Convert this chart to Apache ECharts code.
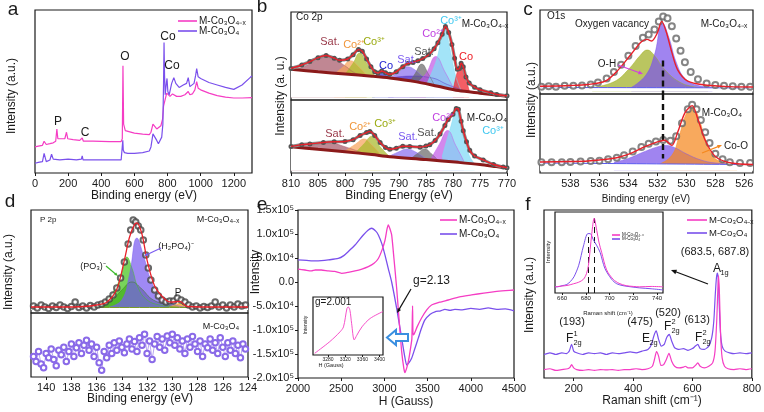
<!DOCTYPE html>
<html>
<head>
<meta charset="utf-8">
<script src="https://cdn.jsdelivr.net/npm/echarts@6/dist/echarts.min.js"></script>
<style>
  html, body { margin: 0; padding: 0; background: #fff; }
  #chart { width: 764px; height: 412px; }
</style>
</head>
<body>
<div id="chart"></div>
<script>
// ---------- data ----------
// a: XPS survey, [binding energy, intensity a.u.]
const aPink = [[0,16],[20,16.5],[45,17],[55,19.5],[60,20.6],[68,17.5],[90,18],[100,19],[110,18.5],[125,19.5],[132,27],[138,21],[150,20.5],[180,21],[190,25],[198,21],[230,20.5],[270,20],[285,21.5],[292,19.5],[350,19.5],[450,19.2],[520,19.3],[527,21],[531,65.8],[535,30],[545,26],[555,25.5],[600,24.5],[650,23.8],[690,23.5],[700,25],[712,30],[722,29],[735,27],[745,27.8],[760,29],[770,33],[776,41],[782,42],[788,40],[795,49],[802,48],[815,47],[830,48.5],[840,49.5],[855,47],[880,47],[905,48],[925,50],[935,48],[950,48.5],[965,51],[976,56],[985,52],[1000,51],[1050,49],[1100,47.5],[1150,46.5],[1200,46],[1250,46],[1310,46.2]];
const aPurple = [[0,6],[20,6.5],[45,7],[55,12],[60,13],[68,7],[90,8],[100,11.5],[110,8.5],[150,8],[200,8.5],[250,8],[280,8.5],[285,10.5],[290,8],[350,8],[450,8],[520,8],[527,9],[530,20],[533,14],[540,12.5],[560,12],[600,12],[650,12.5],[690,13.5],[700,16],[712,24],[722,25],[735,20],[745,18],[755,19],[765,22],[772,30],[776,55],[779,80],[782,60],[786,48],[790,47],[794,56],[797,58],[802,50],[810,48],[825,55],[838,58.5],[850,55],[870,52.5],[895,54],[915,55],[925,58.5],[935,53],[945,52],[960,55],[970,60],[976,64],[985,59],[1000,58],[1050,55.5],[1100,54],[1150,52.5],[1200,51.3],[1250,54],[1300,58.7],[1310,59.5]];
const aTicks = [0, 200, 400, 600, 800, 1000, 1200];

// b: Co 2p
const bTopFit = [[810,34],[808,38],[806.5,42],[805,46.5],[803.5,49],[802,46],[801,43.5],[799.5,45],[798.5,50],[797.5,56],[796.8,54],[796,45],[795.2,36],[794.5,30],[793.9,28.5],[793.2,31],[792.5,29],[791.7,27],[790.5,30],[789.3,36],[788.3,40],[787.4,41],[786.5,43],[785.6,45.5],[784.5,50],[783.5,57],[782.8,64],[782,74],[781.4,83],[780.8,76],[780.2,62],[779.7,46],[779.2,33],[778.8,34],[778.5,40],[778.1,36],[777.6,24],[777,17],[776,12],[775,9],[773,5.5],[771.9,3.5],[770,2]];
const bTopBg = [[810,33],[805,30],[800,27.5],[795,24.8],[791.7,22.7],[787,18.5],[782.8,13],[779,8],[775,5],[770,1.5]];
const bTopSat1 = [[810,30],[807,38],[805,44.5],[803.5,47],[802,45],[800,37],[798,28],[796,24]];
const bTopCo2a = [[802,27],[800.5,35],[799,43],[797.5,36],[796,26]];
const bTopCo3a = [[800,27],[798.5,40],[797.3,52],[796,40],[794.5,25]];
const bTopCo0a = [[795,23],[794,27],[793,30],[792,26],[791,22]];
const bTopSat2 = [[792,21],[790,30],[788.5,36],[787,32],[785,20]];
const bTopSat3 = [[788,18],[787,28],[785.8,39],[784.6,28],[783.5,15]];
const bTopSat4 = [[792,22],[788,25],[784,23],[781,15],[778,8]];
const bTopCo2b = [[787,15],[785,28],[783.2,48],[781.5,30],[780,12]];
const bTopCo3b = [[785,14],[783,45],[781.6,82],[780.5,55],[779.5,25],[778.5,8]];
const bTopCo0b = [[780,8],[779.2,30],[778.6,40],[778,30],[777,8]];
const bBotFit = [[810,34.5],[808,37],[806.5,38],[804,40],[802,41],[800,41.5],[798.5,44],[797.2,50],[796,54],[795.4,55.7],[794.5,50],[793.5,40],[792.5,33],[791.7,30.5],[790.5,32],[789.3,34.7],[788,34.5],[786.1,33.5],[785,35],[784.3,37],[783.3,43],[782.4,52],[781.5,64],[780.9,72.6],[780,80],[779.4,88],[779,87],[778.5,70],[778.1,56.6],[777.5,41],[776.9,29],[776,21],[774.4,15.5],[772.5,9],[770.7,5.5],[770,4.5]];
const bBotBg = [[810,34],[805,30.5],[800,27],[795,23],[791.7,20],[785,16],[779,12],[775,9],[772,6],[770,4]];
const bBotSat1 = [[810,32],[807,35],[803,40],[800,34],[797,26]];
const bBotCo2a = [[800,28],[798,38],[796.5,45],[795,36],[793.5,24]];
const bBotCo3a = [[798,26],[796.5,38],[795,49],[793.5,34],[792,22]];
const bBotSat2 = [[792,20],[790,27],[788.5,31],[787,27],[785,17]];
const bBotSat3 = [[788,16],[786.5,25],[785.2,31],[784,24],[782.5,13]];
const bBotCo2b = [[784,18],[782.5,38],[781,57],[779.5,36],[778,14]];
const bBotCo3b = [[782,20],[780.5,60],[779.3,87],[778.3,55],[777,22],[776,10]];
const bTicks = [810, 805, 800, 795, 790, 785, 780, 775, 770];

// c: O 1s
const cTopFit = [[540.1,6.5],[538,7.5],[536.8,8.7],[535.6,12.7],[534.7,26.6],[533.8,46],[533.1,61],[532.7,64],[532.4,62],[532,72],[531.7,86],[531.4,74],[531,48],[530.6,26.6],[529.9,12.7],[528.7,8],[527,6],[525.4,5.5]];
const cTopPts = [[540,6],[539.5,6.5],[539,6],[538.4,7],[537.8,7],[537.2,7.5],[536.6,8.5],[536.1,11],[535.5,16],[535,24],[534.5,33],[534,44],[533.5,56],[533,66],[532.6,70],[532.2,76],[531.9,86],[531.6,92],[531.3,90],[531,80],[530.7,65],[530.4,50],[530.1,36],[529.7,24],[529.2,15],[528.6,10],[528,8],[527.4,7],[526.8,6.5],[526.2,6],[525.6,6]];
const cTopOH = [[536.5,5],[535,12],[534,27],[533.2,44],[532.7,51],[532.2,44],[531.5,27],[530.5,12],[529.5,6],[528.5,4]];
const cTopVac = [[533.8,5],[532.8,20],[532.2,45],[531.65,84],[531.2,66],[530.7,36],[530.1,16],[529.3,8],[528.2,5]];
const cTopBg = [[540.1,5],[525.4,4.5]];
const cBotFit = [[540.1,11.4],[538,12],[536.8,12.6],[534.9,16.5],[533.8,22.8],[532.9,31],[532,37.6],[531.5,39.7],[531,33],[530.6,50],[530.1,75.5],[529.6,84.8],[529.2,67],[528.7,39.7],[528,18.6],[526.9,10],[525.4,8]];
const cBotPts = [[540,11],[539.3,11],[538.6,11],[538,11.5],[537.3,12],[536.6,12.5],[536,13],[535.4,15],[534.8,17],[534.3,20],[533.7,25],[533.1,31],[532.6,35],[532.1,38],[531.6,40],[531.1,39],[530.7,45],[530.3,62],[529.9,80],[529.6,86],[529.3,80],[529,66],[528.7,50],[528.4,36],[528,22],[527.5,15],[527,11],[526.3,10],[525.6,10]];
const cBotVac = [[535,11],[534,16],[533,24],[532,31],[531.4,33],[530.8,30],[530,22],[529,14],[528,10],[527,9]];
const cBotCoO = [[531.8,9],[531,20],[530.5,45],[530,75],[529.6,85],[529.2,72],[528.7,42],[528.2,20],[527.5,11],[526.5,8.5]];
const cBotBg = [[540.1,10],[525.4,8]];
const cTicks = [538, 536, 534, 532, 530, 528, 526];

// d: P 2p
const dTopFit = [[141.2,3],[139,3],[137,3.5],[136,5],[135.2,7.8],[134.4,20.7],[133.8,49.8],[133.4,72.5],[133,85.4],[132.8,87],[132.4,75.7],[132,49.8],[131.4,24],[130.6,11],[130.1,7.8],[129.4,8.7],[128.8,3.5],[126,3],[124,3]];
const dTopPts = [[141,4],[140.7,2],[140.4,5],[140.1,3],[139.8,1.5],[139.5,4],[139.2,2.5],[138.9,5],[138.6,3],[138.3,1.5],[138,3.5],[137.7,8],[137.4,2.5],[137.1,4],[136.8,2],[136.5,4.5],[136.2,3],[135.9,5],[135.6,6],[135.3,8],[135,11],[134.7,15],[134.4,22],[134.1,32],[133.8,48],[133.5,66],[133.3,80],[133.1,90],[132.9,88],[132.7,84],[132.5,80],[132.3,70],[132.1,55],[131.9,42],[131.7,30],[131.4,20],[131.1,14],[130.8,10],[130.5,8],[130.2,9],[129.9,9],[129.6,12],[129.3,10],[129,8],[128.7,5],[128.4,3],[128.1,4],[127.8,2],[127.5,3.5],[127.2,2.5],[126.9,4],[126.6,8],[126.3,3],[126,5],[125.7,2],[125.4,5],[125.1,3],[124.8,6],[124.5,4],[124.2,5]];
const dTopBase = [[137,3],[135,8],[134,20],[133.2,28],[132.5,22],[131.5,10],[130,4]];
const dTopPO3 = [[136.5,3],[135.5,8],[134.5,22],[134,38],[133.6,53],[133.2,42],[132.7,22],[132,10],[131,5],[129.5,3]];
const dTopH2PO4 = [[135,3],[134,10],[133.4,35],[132.8,72],[132.3,55],[131.7,30],[131,14],[130,6],[129,3]];
const dTopP = [[130.3,2.5],[129.8,5],[129.4,6.5],[129,5],[128.5,2.5]];
const dTopBg = [[141.2,2.5],[124,2.5]];
const dBotPts = [[141,30],[140.8,22],[140.6,38],[140.4,18],[140.2,12],[140,35],[139.8,28],[139.6,42],[139.4,25],[139.2,15],[139,40],[138.8,33],[138.6,45],[138.4,22],[138.2,38],[138,50],[137.8,30],[137.6,44],[137.4,52],[137.2,35],[137,48],[136.8,56],[136.6,40],[136.4,50],[136.2,30],[136,45],[135.8,20],[135.6,8],[135.4,38],[135.2,28],[135,48],[134.8,35],[134.6,52],[134.4,40],[134.2,55],[134,45],[133.8,36],[133.6,50],[133.4,58],[133.2,42],[133,54],[132.8,38],[132.6,60],[132.4,48],[132.2,66],[132,35],[131.8,55],[131.6,25],[131.4,50],[131.2,62],[131,45],[130.8,58],[130.6,40],[130.4,63],[130.2,52],[130,66],[129.8,48],[129.6,60],[129.4,42],[129.2,55],[129,35],[128.8,58],[128.6,45],[128.4,62],[128.2,50],[128,38],[127.8,55],[127.6,30],[127.4,50],[127.2,44],[127,58],[126.8,40],[126.6,52],[126.4,35],[126.2,60],[126,45],[125.8,30],[125.6,52],[125.4,40],[125.2,55],[125,35],[124.8,48],[124.6,28],[124.4,50],[124.2,42]];
const dTicks = [140, 138, 136, 134, 132, 130, 128, 126, 124];

// e: EPR, [H (Gauss), intensity]
const ePink = [[2000,27000],[2080,25000],[2155,23000],[2200,25000],[2270,25000],[2350,23000],[2425,22000],[2505,18000],[2580,20000],[2660,23000],[2740,27000],[2814,32000],[2880,39000],[2930,49000],[2975,68000],[3007,87000],[3030,110000],[3045,119000],[3062,112000],[3084,98000],[3110,50000],[3142,-13000],[3175,-90000],[3200,-145000],[3225,-180000],[3238,-189000],[3260,-178000],[3283,-160000],[3305,-135000],[3318,-118000],[3326,-50000],[3332,-110000],[3345,-108000],[3380,-93000],[3430,-75000],[3490,-58000],[3546,-48000],[3640,-42000],[3739,-37500],[3870,-31000],[4009,-27000],[4150,-23000],[4279,-20000],[4400,-18000],[4500,-16700]];
const ePurple = [[2000,46000],[2100,45000],[2200,44000],[2270,44500],[2350,46000],[2466,49000],[2530,55000],[2580,63000],[2660,77000],[2756,98000],[2810,108000],[2853,112000],[2900,106000],[2930,98000],[2970,80000],[3007,56000],[3045,28000],[3084,0],[3142,-55000],[3200,-117000],[3235,-155000],[3258,-173000],[3285,-168000],[3315,-159000],[3350,-140000],[3392,-117000],[3430,-96000],[3469,-79000],[3530,-67000],[3585,-62000],[3650,-60000],[3700,-57000],[3760,-59000],[3816,-57000],[3900,-58000],[4000,-55000],[4100,-57000],[4202,-54000],[4300,-57000],[4400,-56000],[4500,-60000]];
const eInset = [[3249,3],[3284,23],[3308,40],[3316,48.5],[3324,80],[3327,83],[3331,77],[3335,54],[3341,26],[3347,34],[3359,48.5],[3378,63],[3408,75]];
const eInsetTicks = [3280, 3320, 3360, 3400];

// f: Raman, [shift cm-1, intensity a.u.]
const fPurple = [[100,14],[120,15],[140,14],[160,15],[175,14.5],[185,16],[193,20],[200,16],[210,15],[230,14],[250,15],[270,14.5],[290,15],[310,14],[330,15],[350,14.5],[370,15],[390,15.5],[410,15],[430,16],[450,17],[462,20],[470,25],[478,28],[486,23],[495,19],[505,20],[513,24],[522,26],[530,22],[540,18],[555,17],[570,17.5],[585,16.5],[600,17.5],[610,19],[618,20],[626,17.5],[640,17],[655,19],[665,24],[672,34],[677,50],[681,60],[684,62.5],[687,59],[690,45],[694,28],[700,19],[710,16],[725,15],[740,14.5],[760,15],[780,14.5],[800,15]];
const fPink = [[100,5],[120,5.5],[140,4.5],[160,5],[180,5.5],[188,6.5],[193,8],[200,6],[210,5],[230,4.5],[250,5],[270,4.5],[290,5],[310,4.8],[330,5],[350,4.5],[370,5],[390,5],[410,5.5],[430,5],[450,5.5],[465,7],[472,11],[479,15.7],[486,13],[494,7.5],[503,8],[512,11],[521,14.7],[530,10],[540,7],[555,6],[570,6.5],[576,7],[585,6],[600,6],[610,7.5],[618,9],[626,7],[640,6],[655,7],[668,9],[676,16],[682,35],[686,55],[688,61],[691,50],[695,25],[700,12],[708,7],[720,5.5],[740,5],[760,5.5],[780,5],[800,5.5]];
const fInPurple = [[654,8],[656,8],[660,9.5],[664,11],[667,15],[670,21],[674,36],[678,61],[681.7,77],[683.6,77],[686.3,69],[689,62],[692,52.7],[696,32],[701.7,17.8],[706,12],[711.3,9.5],[718,8],[725,6.7],[735,5.5],[745,4]];
const fInPink = [[654,8],[660,9],[665,10],[669.7,12],[674,14],[678,17.8],[680.5,25],[682.2,36],[685,77],[687,97],[689.2,81],[691,66],[693.3,52.7],[697.5,30],[703,17.8],[708,12.5],[714,9.5],[720,8.5],[725,8],[735,8.5],[745,8]];
const fTicks = [200, 400, 600, 800];
const fInsetTicks = [660, 680, 700, 720, 740];

// ---------- styling ----------
const FONT = 'Liberation Sans, Arial, sans-serif';
const PINK = '#f53dc4';
const PURPLE = '#7a50ec';
const RED = '#e8202a';
const INK = '#1a1a1a';

// grids: a, bTop, bBot, cTop, cBot, dTop, dBot, e, eInset, f, fInset
const boxes = [
    [35, 10, 217, 163],
    [291, 12, 216, 88],
    [291, 100, 216, 73],
    [540, 10, 213, 84],
    [540, 94, 213, 79],
    [31, 210, 217, 103],
    [31, 313, 217, 64],
    [298, 210, 216, 168],
    [313, 297, 70, 58],
    [544, 210, 210, 168],
    [555, 212, 108, 81]
];

const grids = boxes.map(b => ({
    left: b[0], top: b[1], width: b[2], height: b[3],
    show: true, borderColor: INK, borderWidth: 1.2, backgroundColor: 'transparent'
}));

function xAx(gi, min, max, ticks, opt) {
    opt = opt || {};
    const show = !!ticks;
    return {
        type: 'value', gridIndex: gi, min: min, max: max, inverse: !!opt.inverse,
        interval: opt.interval,
        axisLine: { show: false, onZero: false },
        axisTick: { show: show, customValues: opt.interval ? undefined : ticks, length: opt.tickLen || 3, lineStyle: { color: INK, width: 1 } },
        axisLabel: {
            show: show, customValues: opt.interval ? undefined : ticks, fontSize: opt.fontSize || 11,
            color: INK, fontFamily: FONT, margin: opt.margin || 5, formatter: v => String(v)
        },
        splitLine: { show: false }
    };
}
function yHidden(gi, min, max) {
    return { type: 'value', gridIndex: gi, min: min, max: max, show: false, splitLine: { show: false } };
}

const xAxes = [
    xAx(0, 0, 1310, aTicks),
    xAx(1, 770, 810, null, { inverse: true }),
    xAx(2, 770, 810, bTicks, { inverse: true }),
    xAx(3, 525.4, 540.1, null, { inverse: true }),
    xAx(4, 525.4, 540.1, cTicks, { inverse: true }),
    xAx(5, 124, 141.2, null, { inverse: true }),
    xAx(6, 124, 141.2, dTicks, { inverse: true }),
    xAx(7, 2000, 4500, [2000], { interval: 500 }),
    xAx(8, 3245, 3408, eInsetTicks, { fontSize: 5, tickLen: 2, margin: 2 }),
    xAx(9, 100, 800, fTicks),
    xAx(10, 654, 745, fInsetTicks, { fontSize: 6, tickLen: 2, margin: 2 })
];

function supExp(v) {
    if (v === 0) return '0.0';
    const s = v < 0 ? '-' : '';
    const a = Math.abs(v);
    const e = Math.floor(Math.log10(a) + 1e-9);
    return s + (a / Math.pow(10, e)).toFixed(1) + 'x10' + (e === 5 ? '⁵' : '⁴');
}

const yAxes = [
    yHidden(0, 0, 100),
    yHidden(1, -3, 100),
    yHidden(2, -3, 100),
    yHidden(3, -3, 100),
    yHidden(4, -3, 100),
    yHidden(5, -3, 100),
    yHidden(6, -3, 100),
    {
        type: 'value', gridIndex: 7, min: -200000, max: 150000, interval: 50000,
        axisLine: { show: false, onZero: false },
        axisTick: { show: true, length: 3, lineStyle: { color: INK } },
        axisLabel: { fontSize: 11, color: INK, fontFamily: FONT, margin: 4, formatter: supExp },
        splitLine: { show: false }
    },
    yHidden(8, 0, 100),
    yHidden(9, 0, 100),
    yHidden(10, 0, 105)
];

// ---------- series ----------
function ln(gi, data, color, width, extra) {
    return Object.assign({
        type: 'line', xAxisIndex: gi, yAxisIndex: gi, data: data,
        symbol: 'none', smooth: false, silent: true, animation: false,
        lineStyle: { color: color, width: width }, itemStyle: { color: color }, z: 5
    }, extra || {});
}
function peak(gi, data, color) {
    return ln(gi, data, color, 0.5, { smooth: 0.45, areaStyle: { color: color, opacity: 0.72 }, z: 2 });
}
function cover(gi, data, color, width) {
    return ln(gi, data, color, width, { smooth: 0.3, areaStyle: { color: '#fff', opacity: 1 }, z: 3 });
}
function dots(gi, data, color, size, extra) {
    return Object.assign({
        type: 'scatter', xAxisIndex: gi, yAxisIndex: gi, data: data, silent: true, animation: false,
        symbol: 'emptyCircle', symbolSize: size, itemStyle: { color: color, borderColor: color, borderWidth: 0.8 }, z: 4
    }, extra || {});
}
function band(gi, data) {
    return ln(gi, data, '#8a8a8a', 3.2, { smooth: 0.3, symbol: 'emptyCircle', symbolSize: 3, showAllSymbol: true, itemStyle: { color: '#555' }, z: 4 });
}
const dashMark = (pairs, w) => ({
    silent: true, symbol: 'none', label: { show: false },
    lineStyle: { type: [6, 4], color: '#111', width: w },
    data: pairs.map(p => [{ coord: p[0] }, { coord: p[1] }])
});

const series = [
    // a
    ln(0, aPink, PINK, 1.2),
    ln(0, aPurple, PURPLE, 1.2),
    // b top
    peak(1, bTopSat1, '#a8596a'),
    peak(1, bTopCo2a, '#f7a35c'),
    peak(1, bTopCo3a, '#a8b82a'),
    peak(1, bTopCo0a, '#2a35d8'),
    peak(1, bTopSat2, '#8a6ff0'),
    peak(1, bTopSat4, '#5a3cc8'),
    peak(1, bTopSat3, '#6b6b6b'),
    peak(1, bTopCo2b, '#c25ae6'),
    peak(1, bTopCo3b, '#7fdaf5'),
    peak(1, bTopCo0b, '#f0202a'),
    cover(1, bTopBg, '#8b1a1a', 3),
    band(1, bTopFit),
    ln(1, bTopFit, RED, 1.4, { smooth: 0.3, z: 6 }),
    // b bottom
    peak(2, bBotSat1, '#a8596a'),
    peak(2, bBotCo2a, '#f7a35c'),
    peak(2, bBotCo3a, '#a8b82a'),
    peak(2, bBotSat2, '#8a6ff0'),
    peak(2, bBotSat3, '#6b6b6b'),
    peak(2, bBotCo2b, '#c25ae6'),
    peak(2, bBotCo3b, '#7fdaf5'),
    cover(2, bBotBg, '#8b1a1a', 3),
    band(2, bBotFit),
    ln(2, bBotFit, RED, 1.4, { smooth: 0.3, z: 6 }),
    // c top
    peak(3, cTopOH, '#9fae22'),
    peak(3, cTopVac, '#7c55ea'),
    cover(3, cTopBg, '#5a5af0', 1),
    dots(3, cTopPts, '#666', 6),
    ln(3, cTopFit, RED, 1.4, { smooth: 0.3, z: 6, markLine: dashMark([[[531.6, 38], [531.6, -3]]], 2.4) }),
    // c bottom
    peak(4, cBotVac, '#7c55ea'),
    peak(4, cBotCoO, '#f5881f'),
    cover(4, cBotBg, '#5a5af0', 1),
    dots(4, cBotPts, '#666', 6),
    ln(4, cBotFit, RED, 1.4, { smooth: 0.3, z: 6, markLine: dashMark([[[531.6, 100], [531.6, 16]]], 2.4) }),
    // d top
    peak(5, dTopBase, '#3d7a1a'),
    peak(5, dTopPO3, '#44c41c'),
    peak(5, dTopH2PO4, '#7a5cf0'),
    peak(5, dTopP, '#f29a1a'),
    cover(5, dTopBg, '#7a9a2a', 1),
    dots(5, dTopPts, '#444', 5.5),
    ln(5, dTopFit, RED, 1.3, { smooth: 0.3, z: 6 }),
    // d bottom
    ln(6, dBotPts, '#8a6ae8', 0.6, { symbol: 'emptyCircle', symbolSize: 5.5, showAllSymbol: true, itemStyle: { color: '#8a6ae8', borderWidth: 0.8 } }),
    // e
    ln(7, ePurple, PURPLE, 1.3, { smooth: 0.2 }),
    ln(7, ePink, PINK, 1.3, { smooth: 0.2 }),
    ln(8, eInset, PINK, 0.9, { smooth: 0.3 }),
    // f
    ln(9, fPurple, PURPLE, 1.2, { smooth: 0.2 }),
    ln(9, fPink, PINK, 1.2, { smooth: 0.2 }),
    ln(10, fInPurple, PURPLE, 1, { smooth: 0.3 }),
    ln(10, fInPink, PINK, 1, { smooth: 0.3, markLine: dashMark([[[682, 0], [682, 77]], [[687, 0], [687, 97]]], 1) })
];

// ---------- annotations ----------
function T(x, y, text, o) {
    o = o || {};
    return {
        type: 'text', x: x, y: y, z: 100, rotation: o.rot || 0, silent: true,
        style: {
            text: text, fill: o.color || INK, fontSize: o.size || 11, fontFamily: FONT,
            fontWeight: o.weight || 'normal',
            align: o.align || 'center', verticalAlign: o.va || 'middle'
        }
    };
}
function L(x1, y1, x2, y2, color, w) {
    return { type: 'line', z: 100, silent: true, shape: { x1: x1, y1: y1, x2: x2, y2: y2 }, style: { stroke: color, lineWidth: w || 1 } };
}
function arrow(x1, y1, x2, y2, color, w, hs) {
    hs = hs || 5;
    const a = Math.atan2(y2 - y1, x2 - x1);
    const p1 = [x2 - hs * Math.cos(a - 0.4), y2 - hs * Math.sin(a - 0.4)];
    const p2 = [x2 - hs * Math.cos(a + 0.4), y2 - hs * Math.sin(a + 0.4)];
    return [
        L(x1, y1, x2 - hs * 0.6 * Math.cos(a), y2 - hs * 0.6 * Math.sin(a), color, w),
        { type: 'polygon', z: 100, silent: true, shape: { points: [[x2, y2], p1, p2] }, style: { fill: color } }
    ];
}
function legendItem(x, y, color, label, len, size) {
    return [L(x, y, x + len, y, color, 1.6), T(x + len + 2, y, label, { align: 'left', size: size })];
}
// subscript/superscript label like F^1_2g
function symLabel(x, y, main, sub, sup, color, size) {
    size = size || 11;
    const out = [T(x, y, main, { align: 'left', size: size, color: color })];
    const w = main.length * size * 0.62;
    if (sub) out.push(T(x + w, y + size * 0.35, sub, { align: 'left', size: size * 0.62, color: color }));
    if (sup) out.push(T(x + w, y - size * 0.4, sup, { align: 'left', size: size * 0.62, color: color }));
    return out;
}

const SUBX = 'M-Co₃O₄₋ₓ';
const SUB = 'M-Co₃O₄';

let graphics = [
    // panel letters
    T(13, 10, 'a', { size: 19 }), T(262, 7, 'b', { size: 19 }), T(528, 10, 'c', { size: 19 }),
    T(10, 202, 'd', { size: 19 }), T(262, 205, 'e', { size: 19 }), T(528, 205, 'f', { size: 19 }),
    // axis titles
    T(144, 196, 'Binding energy (eV)', { size: 12 }),
    T(399, 196, 'Binding Energy (eV)', { size: 12 }),
    T(646, 199, 'Binding energy (eV)', { size: 10 }),
    T(140, 399, 'Binding energy (eV)', { size: 12 }),
    T(406, 402, 'H (Gauss)', { size: 12 }),
    T(652, 401, 'Raman shift (cm⁻¹)', { size: 12 }),
    T(12, 96, 'Intensity (a.u.)', { size: 12, rot: Math.PI / 2 }),
    T(281, 96, 'Intensity (a. u.)', { size: 12, rot: Math.PI / 2 }),
    T(532, 100, 'Intensity (a.u.)', { size: 12, rot: Math.PI / 2 }),
    T(9, 272, 'Intensity (a.u.)', { size: 12, rot: Math.PI / 2 }),
    T(256, 272, 'Intensity', { size: 12, rot: Math.PI / 2 }),
    T(530, 295, 'Intensity (a.u.)', { size: 12, rot: Math.PI / 2 }),
    // a
    T(58, 122, 'P', { size: 12 }), T(85, 133, 'C', { size: 12 }), T(125, 57, 'O', { size: 12 }),
    T(168, 37, 'Co', { size: 12 }), T(172, 66, 'Co', { size: 12 }),
    // b top
    T(296, 17, 'Co 2p', { size: 10, align: 'left' }), T(485, 24, SUBX, { size: 10 }),
    T(330, 42, 'Sat.', { size: 11, color: '#9a3a4a' }), T(354, 45, 'Co²⁺', { size: 11, color: '#f0963a' }),
    T(374, 42, 'Co³⁺', { size: 11, color: '#9aaa10' }), T(386, 66, 'Co', { size: 11, color: '#2020d0' }),
    T(407, 60, 'Sat.', { size: 11, color: '#7a5af0' }), T(424, 52, 'Sat.', { size: 11, color: '#555' }),
    T(433, 34, 'Co²⁺', { size: 11, color: '#c040e0' }), T(451, 21, 'Co³⁺', { size: 11, color: '#40c8f0' }),
    T(466, 57, 'Co', { size: 11, color: '#ee1c24' }),
    // b bottom
    T(335, 134, 'Sat.', { size: 11, color: '#9a3a4a' }), T(360, 127, 'Co²⁺', { size: 11, color: '#f0963a' }),
    T(385, 124, 'Co³⁺', { size: 11, color: '#9aaa10' }), T(408, 137, 'Sat.', { size: 11, color: '#7a5af0' }),
    T(427, 133, 'Sat.', { size: 11, color: '#555' }), T(443, 118, 'Co²⁺', { size: 11, color: '#c040e0' }),
    T(487, 118, SUB, { size: 10 }), T(493, 131, 'Co³⁺', { size: 11, color: '#40c8f0' }),
    // c
    T(547, 16, 'O1s', { size: 10, align: 'left' }), T(612, 24, 'Oxygen vacancy', { size: 10 }),
    T(724, 24, SUBX, { size: 10 }), T(607, 64, 'O-H', { size: 10 }),
    T(722, 113, SUB, { size: 10 }), T(736, 146, 'Co-O', { size: 10 }),
    // d
    T(40, 220, 'P 2p', { size: 8, align: 'left' }), T(218, 220, SUBX, { size: 9 }),
    T(93, 267, '(PO₃)⁻', { size: 9 }), T(176, 247, '(H₂PO₄)⁻', { size: 9 }),
    T(178, 293, 'P', { size: 10 }), T(221, 327, SUB, { size: 9 }),
    // e
    T(413, 281, 'g=2.13', { size: 12, align: 'left' }),
    T(315, 302, 'g=2.001', { size: 10, align: 'left' }),
    T(331, 365, 'H (Gauss)', { size: 5.5 }),
    T(306, 325, 'Intensity', { size: 5, rot: Math.PI / 2 }),
    {
        type: 'polygon', z: 100, silent: true,
        shape: { points: [[387, 337.5], [396, 330], [396, 334], [408, 334], [408, 341], [396, 341], [396, 345]] },
        style: { fill: '#fff', stroke: '#3a8fe0', lineWidth: 2 }
    },
    // f
    T(715, 252, '(683.5, 687.8)', { size: 11 }),
    T(572, 322, '(193)', { size: 11 }), T(640, 322, '(475)', { size: 11 }),
    T(668, 313, '(520)', { size: 11 }), T(697, 320, '(613)', { size: 11 }),
    T(608, 313, 'Raman shift (cm⁻¹)', { size: 6 }),
    T(548, 252, 'Intensity', { size: 6, rot: Math.PI / 2 })
];

graphics = graphics.concat(
    legendItem(178, 21, PINK, SUBX, 19, 10),
    legendItem(178, 31, PURPLE, SUB, 19, 10),
    legendItem(440, 220, PINK, SUBX, 17, 10),
    legendItem(440, 234, PURPLE, SUB, 17, 10),
    legendItem(687, 220, PINK, SUBX, 20, 9.5),
    legendItem(687, 233, PURPLE, SUB, 20, 9.5),
    legendItem(612, 235, PINK, SUBX, 8, 4.5),
    legendItem(612, 239, PURPLE, SUB, 8, 4.5),
    arrow(618, 65, 643, 74, '#d040e0', 1.2, 5),
    arrow(702, 153, 722, 145, '#f5881f', 1.2, 5),
    arrow(106, 266, 118, 276, '#3cb82a', 1.2, 4),
    arrow(161, 248, 144, 256, '#7a5cf0', 1.2, 4),
    arrow(411, 289, 397, 313, '#111', 1.2, 5),
    arrow(708, 284, 671, 270, '#111', 1.2, 6),
    symLabel(566, 339, 'F', '2g', '1', INK, 12),
    symLabel(642, 339, 'E', '2g', null, INK, 12),
    symLabel(664, 327, 'F', '2g', '2', INK, 12),
    symLabel(695, 338, 'F', '2g', '2', INK, 12),
    symLabel(713, 269, 'A', '1g', null, INK, 12)
);

const chart = echarts.init(document.getElementById('chart'), null, { renderer: 'canvas' });
chart.setOption({
    animation: false,
    backgroundColor: '#fff',
    grid: grids,
    xAxis: xAxes,
    yAxis: yAxes,
    series: series,
    graphic: graphics
});
</script>
</body>
</html>
